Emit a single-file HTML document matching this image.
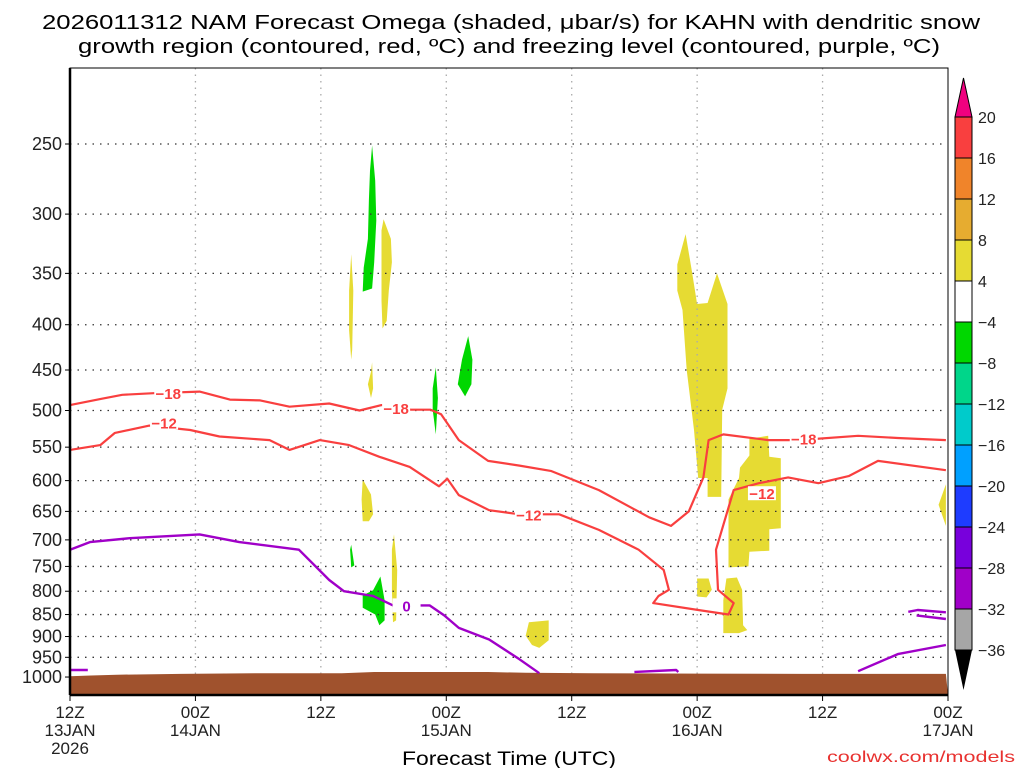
<!DOCTYPE html>
<html><head><meta charset="utf-8"><style>
body{margin:0;background:#fff;}
svg{display:block;font-family:"Liberation Sans",sans-serif;}
</style></head><body>
<svg id="chart" width="1024" height="768" viewBox="0 0 1024 768" xmlns="http://www.w3.org/2000/svg">
<text x="42" y="29" font-size="20" textLength="938" lengthAdjust="spacingAndGlyphs">2026011312 NAM Forecast Omega (shaded, μbar/s) for KAHN with dendritic snow</text>
<text x="78" y="53" font-size="20" textLength="862" lengthAdjust="spacingAndGlyphs">growth region (contoured, red, ºC) and freezing level (contoured, purple, ºC)</text>
<g id="plot"></g>
<g id="cbar"></g>
<text x="509" y="765" font-size="19" text-anchor="middle" textLength="214" lengthAdjust="spacingAndGlyphs">Forecast Time (UTC)</text>
<text x="1015" y="762" font-size="16" fill="#e8312f" text-anchor="end" textLength="188" lengthAdjust="spacingAndGlyphs">coolwx.com/models</text>
</svg>
<script>
const pLevels=[250,300,350,400,450,500,550,600,650,700,750,800,850,900,950,1000];
const xTickHours=[0,12,24,36,48,60,72,84];
const xTickTop=["12Z","00Z","12Z","00Z","12Z","00Z","12Z","00Z"];
const xTickMid=["13JAN","14JAN","","15JAN","","16JAN","","17JAN"];
const xTickBot=["2026","","","","","","",""];
const terrainHours=[0,2,4.5,10.6,18.5,26,29.1,40,43.6,50,60,70,83.8];
const terrainSfc=[998,996,994,992,990,990,987,987,989,990,991,992,992];
const yellowShapes=[
[[30.0,304],[30.7,320],[30.8,340],[30.5,366],[30.3,396],[29.9,404],[29.8,376],[29.8,340],[29.8,313]],
[[26.9,333],[27.1,366],[27.0,427],[26.9,438],[26.7,406],[26.7,366]],
[[28.9,441],[29.0,472],[28.8,484],[28.5,467],[28.8,452]],
[[28.0,598],[28.8,622],[29.0,655],[28.6,667],[28.0,667],[27.9,630]],
[[31.0,690],[31.3,757],[31.2,863],[30.9,867],[30.8,797],[30.8,718]],
[[43.9,867],[45.8,863],[45.8,909],[44.9,927],[44.2,920],[43.6,898]],
[[83.8,606],[83.1,639],[83.8,675]],
[[58.1,342],[58.9,316],[59.5,348],[60.0,379],[61.0,378],[61.9,350],[62.9,379],[62.9,472],[62.4,499],[62.3,626],[61.0,626],[61.0,596],[60.1,596],[59.7,526],[59.0,450],[58.6,385],[58.1,366]],
[[65.0,538],[66.8,534],[66.9,564],[68.0,566],[68.0,679],[66.9,681],[66.9,720],[65.0,722],[64.9,750],[63.0,752],[63.0,630],[64.0,596],[64.1,580],[65.0,562]],
[[60.0,774],[61.1,774],[61.4,797],[60.9,813],[60.0,811]],
[[62.8,774],[63.8,772],[64.3,797],[64.4,874],[64.8,885],[64.0,892],[62.5,892],[62.5,819]]
];
const greenShapes=[
[[28.9,251],[29.2,275],[29.3,305],[29.1,340],[28.9,364],[28.0,367],[28.1,345],[28.5,320],[28.6,289],[28.7,268]],
[[35.0,447],[35.2,484],[35.0,532],[34.7,499],[34.7,472]],
[[38.1,412],[38.5,438],[38.4,467],[37.8,482],[37.1,467],[37.5,438]],
[[26.9,709],[27.2,748],[26.9,752],[26.8,718]],
[[29.7,770],[30.1,819],[30.1,863],[29.6,874],[29.2,850],[28.0,835],[28.0,809],[29.0,798]]
];
const line18=[[0,493],[3,485],[5,480],[8,478],[12.4,476],[15.3,486],[18.2,487],[21,495],[24.8,491],[27.7,500],[29.8,493],[32.6,499],[34.5,499],[35.5,505],[37.2,540],[40,570],[43,577],[46,585],[50.6,615],[55.4,660],[57.5,675],[59.2,650],[60.6,595],[61.1,540],[62.5,532],[66.8,540],[69.7,540],[75.4,534],[79.2,537],[83.8,540]];
const line12=[[0,554],[2.9,547],[4.3,530],[7.6,520],[11.5,526],[14.3,535],[19.1,540],[21,554],[23.9,540],[26.7,547],[29.6,564],[32.5,579],[35.3,609],[36.1,597],[37.2,623],[40.1,648],[43,655],[46.8,655],[50.6,682],[54.4,718],[56.8,757],[57.3,797],[56.3,810],[55.8,825],[60.1,840],[63,850],[63.5,825],[62,797],[61.8,718],[63.5,615],[65.9,604],[68.7,595],[71.6,604],[74.5,593],[77.3,570],[83.8,584]];
const frz0=[[0,718],[1.9,704],[5.7,697],[12.4,690],[16.2,704],[21.9,718],[24.8,777],[26.2,800],[29,810],[30.9,830],[32.5,830],[34.4,830],[35.8,852],[37.2,880],[40.1,907],[43,955],[44.9,990]];
const frzExtra=[[[0,982],[1.7,982]],[[54,987],[58,982],[58.2,987]],[[75.4,985],[79.2,942],[83.8,920]],[[80.2,844],[81.1,840],[83.8,845]],[[81,852],[83.8,860]]];
const labels18=[[9.4,478],[31.2,497],[70.2,538]];
const labels12=[[9.0,516],[43.9,655],[66.2,620]];
const labels0=[[32.2,830]];
const cbarLabels=["20","16","12","8","4","−4","−8","−12","−16","−20","−24","−28","−32","−36"];
const cbarColors=["#f93f3f","#f0842a","#e6ac30","#e6db33","#ffffff","#00d700","#00d68a","#00cbcb","#00a0ff","#1e3cff","#7800dc","#a000c8","#a6a6a6"];

const L=70,R=948,T=68,B=695;
const X=h=>L+h*(R-L)/84;
const Y=p=>144+384.5*Math.log(p/250);
const NS="http://www.w3.org/2000/svg";
const plot=document.getElementById('plot');
function mk(tag,attrs,parent){const e=document.createElementNS(NS,tag);for(const k in attrs)e.setAttribute(k,attrs[k]);(parent||plot).appendChild(e);return e;}
const pts=a=>a.map(d=>X(d[0]).toFixed(1)+","+Y(d[1]).toFixed(1)).join(" ");

yellowShapes.forEach(s=>{const e=mk('polygon',{points:pts(s),fill:'#e6db33'});

});
greenShapes.forEach(s=>{const e=mk('polygon',{points:pts(s),fill:'#00d700'});

});

pLevels.forEach(p=>{const e=mk('line',{x1:L,x2:R,y1:Y(p),y2:Y(p),stroke:'#333','stroke-width':1.3,'stroke-dasharray':'1.5 6'});


const t=mk('text',{x:62,y:Y(p)+6,'font-size':18,'text-anchor':'end',fill:'#222'});t.textContent=p;


mk('line',{x1:L-5,x2:L,y1:Y(p),y2:Y(p),stroke:'#000'});});
xTickHours.forEach((h,i)=>{const x=X(h);
if(i>0&&i<xTickHours.length-1){const g=mk('line',{x1:x,x2:x,y1:T,y2:B,stroke:'#aaa','stroke-width':1.3,'stroke-dasharray':'1.5 5'});

}
mk('line',{x1:x,x2:x,y1:B,y2:B+6,stroke:'#000'});
[xTickTop[i],xTickMid[i],xTickBot[i]].forEach((s,j)=>{if(!s)return;const t=mk('text',{x:x,y:718+j*18,'font-size':17,'text-anchor':'middle',fill:'#222'});t.textContent=s;

});});

let tp=terrainHours.map((h,i)=>[h,terrainSfc[i]]);
let terr=pts(tp)+` ${R},${B} ${L},${B}`;
const te=mk('polygon',{points:terr,fill:'#a0522d'});



function line(a,col,w,name){const e=mk('polyline',{points:pts(a),fill:'none',stroke:col,'stroke-width':w,'stroke-linejoin':'round'});

}
line(line18,'#f93f3f',2.2,'contour-minus18');
line(line12,'#f93f3f',2.2,'contour-minus12');
line(frz0,'#a000c8',2.4,'freezing-level');
frzExtra.forEach(a=>line(a,'#a000c8',2.4,'freezing-level-segment'));
function lab(arr,txt,col){arr.forEach(d=>{const x=X(d[0]),y=Y(d[1]);
mk('rect',{x:x-14,y:y-7,width:28,height:14,fill:'#fff'});
const t=mk('text',{x:x,y:y+6,'font-size':15,'font-weight':'bold','text-anchor':'middle',fill:col});t.textContent=txt;

});}
lab(labels18,'−18','#f93f3f');lab(labels12,'−12','#f93f3f');lab(labels0,'0','#a000c8');

mk('rect',{x:L,y:T,width:R-L,height:B-T,fill:'none',stroke:'#000','stroke-width':1});
mk('line',{x1:L,x2:L,y1:T,y2:B,stroke:'#000','stroke-width':2.5});
mk('line',{x1:L,x2:R,y1:B,y2:B,stroke:'#000','stroke-width':2.5});

const cb=document.getElementById('cbar');
const cx=955,cw=17,ct=117,ch=41;
mk('polygon',{points:`${cx},${ct} ${cx+cw},${ct} ${cx+cw/2},78`,fill:'#f0007f',stroke:'#000'},cb);
cbarColors.forEach((c,i)=>{const r=mk('rect',{x:cx,y:ct+i*ch,width:cw,height:ch,fill:c,stroke:'#000'},cb);

});
const bt=ct+cbarColors.length*ch;
mk('polygon',{points:`${cx},${bt} ${cx+cw},${bt} ${cx+cw/2},690`,fill:'#000'},cb);
cbarLabels.forEach((s,i)=>{const t=mk('text',{x:978,y:ct+i*ch+6,'font-size':16,fill:'#222'},cb);t.textContent=s;

});
</script>
</body></html>
